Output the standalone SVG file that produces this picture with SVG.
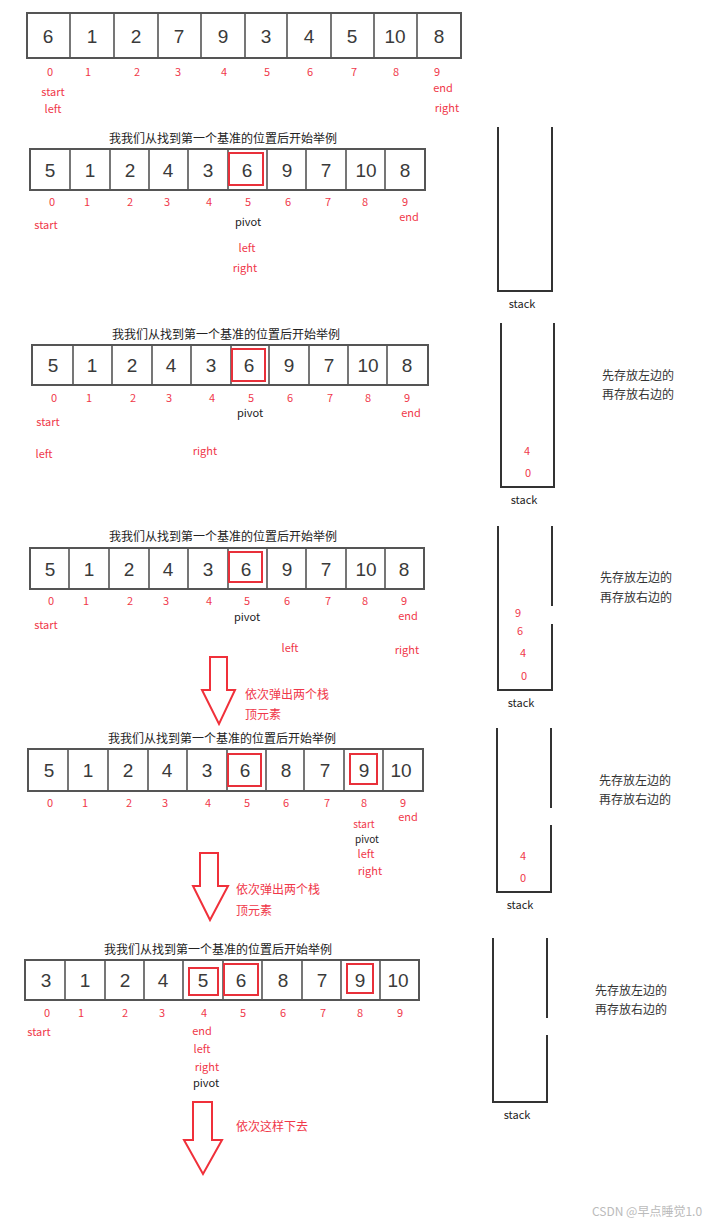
<svg xmlns="http://www.w3.org/2000/svg" width="723" height="1224" viewBox="0 0 723 1224">
<style>
.bg{fill:#fff}
.cell{fill:none;stroke:#555;stroke-width:2}
.div{stroke:#555;stroke-width:1.6}
.val{font-family:"Liberation Sans","DejaVu Sans",sans-serif;font-size:19px;fill:#3a3a3a;text-anchor:middle}
.idx{font-family:"Noto Sans CJK SC","Liberation Sans",sans-serif;font-size:11px;fill:#f0384a;text-anchor:middle}
.blk{font-family:"Noto Sans CJK SC","Liberation Sans",sans-serif;font-size:11px;fill:#222;text-anchor:middle}
.sm{font-size:10px}
.title{font-family:"Noto Sans CJK SC","Liberation Sans",sans-serif;font-size:12px;fill:#222;text-anchor:middle}
.note{font-family:"Noto Sans CJK SC","Liberation Sans",sans-serif;font-size:12px;fill:#333;text-anchor:middle}
.rnote{font-family:"Noto Sans CJK SC","Liberation Sans",sans-serif;font-size:12px;fill:#f0384a}
.hl{fill:none;stroke:#e8303a;stroke-width:2}
.stk{fill:none;stroke:#333;stroke-width:2}
.arrow{fill:none;stroke:#f0303a;stroke-width:2;stroke-linejoin:miter}
.wm{font-family:"Noto Sans CJK SC","Liberation Sans",sans-serif;font-size:12px;fill:#bbb}
</style>
<rect class="bg" x="0" y="0" width="723" height="1224"/>

<!-- Row 1 -->
<g id="array-1">
<rect class="cell" x="27" y="13" width="434" height="45"/>
<path class="div" d="M70,13V58M114,13V58M158,13V58M201,13V58M245,13V58M287,13V58M331,13V58M374,13V58M417,13V58"/>
<text class="val" y="43"><tspan x="48">6</tspan><tspan x="92">1</tspan><tspan x="136">2</tspan><tspan x="179">7</tspan><tspan x="223">9</tspan><tspan x="266">3</tspan><tspan x="309">4</tspan><tspan x="352">5</tspan><tspan x="395">10</tspan><tspan x="439">8</tspan></text>
<text class="idx" y="76"><tspan x="50">0</tspan><tspan x="88">1</tspan><tspan x="137">2</tspan><tspan x="178">3</tspan><tspan x="224">4</tspan><tspan x="267">5</tspan><tspan x="310">6</tspan><tspan x="354">7</tspan><tspan x="396">8</tspan><tspan x="437">9</tspan></text>
<text class="idx" x="53" y="96">start</text>
<text class="idx" x="53" y="113">left</text>
<text class="idx" x="443" y="92">end</text>
<text class="idx" x="447" y="112">right</text>
</g>

<!-- Row 2 -->
<g id="array-2">
<text class="title" x="223" y="143">我我们从找到第一个基准的位置后开始举例</text>
<rect class="cell" x="30" y="149" width="395" height="41"/>
<path class="div" d="M70,149V190M110,149V190M149,149V190M188,149V190M228,149V190M267,149V190M306,149V190M346,149V190M385,149V190"/>
<rect class="hl" x="229" y="153" width="34" height="32"/>
<text class="val" y="177"><tspan x="50">5</tspan><tspan x="90">1</tspan><tspan x="130">2</tspan><tspan x="168">4</tspan><tspan x="208">3</tspan><tspan x="247">6</tspan><tspan x="287">9</tspan><tspan x="326">7</tspan><tspan x="366">10</tspan><tspan x="405">8</tspan></text>
<text class="idx" y="206"><tspan x="52">0</tspan><tspan x="87">1</tspan><tspan x="130">2</tspan><tspan x="167">3</tspan><tspan x="209">4</tspan><tspan x="248">5</tspan><tspan x="288">6</tspan><tspan x="328">7</tspan><tspan x="365">8</tspan><tspan x="405">9</tspan></text>
<text class="idx" x="46" y="229">start</text>
<text class="blk" x="248" y="226">pivot</text>
<text class="idx" x="409" y="221">end</text>
<text class="idx" x="247" y="252">left</text>
<text class="idx" x="245" y="272">right</text>
</g>
<g id="stack-1">
<path class="stk" d="M498,127V291H552V127"/>
<text class="blk" x="522" y="308">stack</text>
</g>

<!-- Row 3 -->
<g id="array-3">
<text class="title" x="226" y="339">我我们从找到第一个基准的位置后开始举例</text>
<rect class="cell" x="32" y="345" width="396" height="40"/>
<path class="div" d="M73,345V385M112,345V385M152,345V385M191,345V385M231,345V385M269,345V385M309,345V385M348,345V385M387,345V385"/>
<rect class="hl" x="232" y="349" width="33" height="32"/>
<text class="val" y="372"><tspan x="53">5</tspan><tspan x="92">1</tspan><tspan x="132">2</tspan><tspan x="171">4</tspan><tspan x="211">3</tspan><tspan x="249">6</tspan><tspan x="289">9</tspan><tspan x="329">7</tspan><tspan x="368">10</tspan><tspan x="407">8</tspan></text>
<text class="idx" y="402"><tspan x="54">0</tspan><tspan x="89">1</tspan><tspan x="133">2</tspan><tspan x="169">3</tspan><tspan x="212">4</tspan><tspan x="251">5</tspan><tspan x="290">6</tspan><tspan x="330">7</tspan><tspan x="368">8</tspan><tspan x="407">9</tspan></text>
<text class="blk" x="250" y="417">pivot</text>
<text class="idx" x="48" y="426">start</text>
<text class="idx" x="411" y="417">end</text>
<text class="idx" x="44" y="458">left</text>
<text class="idx" x="205" y="455">right</text>
</g>
<g id="stack-2">
<path class="stk" d="M501,323V487H554V323"/>
<text class="idx" x="527" y="455">4</text>
<text class="idx" x="528" y="477">0</text>
<text class="blk" x="524" y="504">stack</text>
<text class="note" x="638" y="380">先存放左边的</text>
<text class="note" x="638" y="399">再存放右边的</text>
</g>

<!-- Row 4 -->
<g id="array-4">
<text class="title" x="223" y="541">我我们从找到第一个基准的位置后开始举例</text>
<rect class="cell" x="30" y="548" width="394" height="41"/>
<path class="div" d="M69,548V589M109,548V589M149,548V589M188,548V589M228,548V589M267,548V589M306,548V589M346,548V589M385,548V589"/>
<rect class="hl" x="229" y="552" width="33" height="30"/>
<text class="val" y="576"><tspan x="50">5</tspan><tspan x="89">1</tspan><tspan x="129">2</tspan><tspan x="168">4</tspan><tspan x="208">3</tspan><tspan x="246">6</tspan><tspan x="287">9</tspan><tspan x="326">7</tspan><tspan x="366">10</tspan><tspan x="404">8</tspan></text>
<text class="idx" y="605"><tspan x="51">0</tspan><tspan x="86">1</tspan><tspan x="130">2</tspan><tspan x="166">3</tspan><tspan x="209">4</tspan><tspan x="247">5</tspan><tspan x="287">6</tspan><tspan x="328">7</tspan><tspan x="365">8</tspan><tspan x="404">9</tspan></text>
<text class="blk" x="247" y="621">pivot</text>
<text class="idx" x="46" y="629">start</text>
<text class="idx" x="408" y="620">end</text>
<text class="idx" x="290" y="652">left</text>
<text class="idx" x="407" y="654">right</text>
</g>
<g id="stack-3">
<path class="stk" d="M498,526V690H552V624M552,606V526"/>
<text class="idx" x="518" y="617">9</text>
<text class="idx" x="520" y="635">6</text>
<text class="idx" x="523" y="657">4</text>
<text class="idx" x="524" y="680">0</text>
<text class="blk" x="521" y="707">stack</text>
<text class="note" x="636" y="582">先存放左边的</text>
<text class="note" x="636" y="602">再存放右边的</text>
</g>

<!-- Row 5 -->
<g id="array-5">
<text class="title" x="222" y="743">我我们从找到第一个基准的位置后开始举例</text>
<rect class="cell" x="28" y="749" width="395" height="42"/>
<path class="div" d="M68,749V791M108,749V791M148,749V791M187,749V791M227,749V791M266,749V791M304,749V791M344,749V791M383,749V791"/>
<rect class="hl" x="228" y="754" width="33" height="32"/>
<rect class="hl" x="350" y="754" width="27" height="30"/>
<text class="val" y="777"><tspan x="49">5</tspan><tspan x="88">1</tspan><tspan x="128">2</tspan><tspan x="167">4</tspan><tspan x="207">3</tspan><tspan x="245">6</tspan><tspan x="286">8</tspan><tspan x="325">7</tspan><tspan x="364">9</tspan><tspan x="401">10</tspan></text>
<text class="idx" y="807"><tspan x="50">0</tspan><tspan x="85">1</tspan><tspan x="129">2</tspan><tspan x="165">3</tspan><tspan x="208">4</tspan><tspan x="247">5</tspan><tspan x="286">6</tspan><tspan x="327">7</tspan><tspan x="364">8</tspan><tspan x="403">9</tspan></text>
<text class="idx" x="408" y="821">end</text>
<text class="idx sm" x="364" y="828">start</text>
<text class="blk sm" x="367" y="843">pivot</text>
<text class="idx" x="366" y="858">left</text>
<text class="idx" x="370" y="875">right</text>
</g>
<g id="stack-4">
<path class="stk" d="M497,728V892H551V825M551,808V728"/>
<text class="idx" x="523" y="860">4</text>
<text class="idx" x="523" y="882">0</text>
<text class="blk" x="520" y="909">stack</text>
<text class="note" x="635" y="785">先存放左边的</text>
<text class="note" x="635" y="804">再存放右边的</text>
</g>

<!-- Row 6 -->
<g id="array-6">
<text class="title" x="218" y="954">我我们从找到第一个基准的位置后开始举例</text>
<rect class="cell" x="25" y="960" width="394" height="40"/>
<path class="div" d="M65,960V1000M105,960V1000M144,960V1000M183,960V1000M223,960V1000M262,960V1000M302,960V1000M341,960V1000M380,960V1000"/>
<rect class="hl" x="189" y="968" width="29" height="27"/>
<rect class="hl" x="224" y="964" width="34" height="31"/>
<rect class="hl" x="347" y="964" width="26" height="29"/>
<text class="val" y="987"><tspan x="46">3</tspan><tspan x="85">1</tspan><tspan x="125">2</tspan><tspan x="163">4</tspan><tspan x="203">5</tspan><tspan x="241">6</tspan><tspan x="283">8</tspan><tspan x="322">7</tspan><tspan x="360">9</tspan><tspan x="398">10</tspan></text>
<text class="idx" y="1017"><tspan x="47">0</tspan><tspan x="81">1</tspan><tspan x="125">2</tspan><tspan x="162">3</tspan><tspan x="204">4</tspan><tspan x="243">5</tspan><tspan x="283">6</tspan><tspan x="323">7</tspan><tspan x="360">8</tspan><tspan x="400">9</tspan></text>
<text class="idx" x="39" y="1036">start</text>
<text class="idx" x="202" y="1035">end</text>
<text class="idx" x="202" y="1053">left</text>
<text class="idx" x="207" y="1071">right</text>
<text class="blk" x="206" y="1087">pivot</text>
</g>
<g id="stack-5">
<path class="stk" d="M493,938V1102H547V1035M547,1018V938"/>
<text class="blk" x="517" y="1119">stack</text>
<text class="note" x="631" y="995">先存放左边的</text>
<text class="note" x="631" y="1014">再存放右边的</text>
</g>

<!-- Connectors (block arrows) -->
<g id="connectors">
<path class="arrow" d="M210,657H227V690H235L219,724L202,690H210Z"/>
<text class="rnote" x="245" y="699">依次弹出两个栈</text>
<text class="rnote" x="245" y="719">顶元素</text>
<path class="arrow" d="M200,853H218V886H228L210,920L193,886H200Z"/>
<text class="rnote" x="236" y="894">依次弹出两个栈</text>
<text class="rnote" x="236" y="915">顶元素</text>
<path class="arrow" d="M193,1102H212V1140H222L203,1174L184,1140H193Z"/>
<text class="rnote" x="236" y="1131">依次这样下去</text>
</g>

<text class="wm" x="592" y="1216">CSDN @早点睡觉1.0</text>
</svg>
